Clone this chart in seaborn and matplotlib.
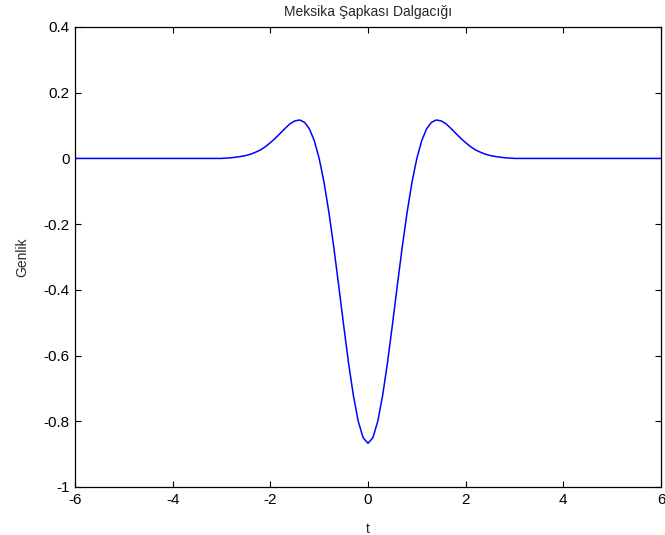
import matplotlib
matplotlib.use("Agg")
import matplotlib.pyplot as plt
import seaborn as sns
import pandas as pd

# Time axis and amplitude
t = [-6.0,
     -3.0, -2.9, -2.8, -2.7, -2.6, -2.5, -2.4, -2.3, -2.2, -2.1,
     -2.0, -1.9, -1.8, -1.7, -1.6, -1.5, -1.4, -1.3, -1.2, -1.1,
     -1.0, -0.9, -0.8, -0.7, -0.6, -0.5, -0.4, -0.3, -0.2, -0.1,
     0.0,
     0.1, 0.2, 0.3, 0.4, 0.5, 0.6, 0.7, 0.8, 0.9, 1.0,
     1.1, 1.2, 1.3, 1.4, 1.5, 1.6, 1.7, 1.8, 1.9, 2.0,
     2.1, 2.2, 2.3, 2.4, 2.5, 2.6, 2.7, 2.8, 2.9, 3.0,
     6.0]
genlik = [0.0,
          0.000, 0.001, 0.002, 0.004, 0.006, 0.009, 0.013, 0.019, 0.026, 0.036,
          0.048, 0.061, 0.076, 0.091, 0.105, 0.114, 0.117, 0.110, 0.090, 0.054,
          0.000, -0.073, -0.165, -0.271, -0.387, -0.506, -0.621, -0.721, -0.800, -0.850,
          -0.867,
          -0.850, -0.800, -0.721, -0.621, -0.506, -0.387, -0.271, -0.165, -0.073, 0.000,
          0.054, 0.090, 0.110, 0.117, 0.114, 0.105, 0.091, 0.076, 0.061, 0.048,
          0.036, 0.026, 0.019, 0.013, 0.009, 0.006, 0.004, 0.002, 0.001, 0.000,
          0.0]

x_ticks = [-6, -4, -2, 0, 2, 4, 6]
y_ticks = [-1, -0.8, -0.6, -0.4, -0.2, 0, 0.2, 0.4]
y_tick_labels = ["-1", "-0.8", "-0.6", "-0.4", "-0.2", "0", "0.2", "0.4"]

df = pd.DataFrame({"t": t, "Genlik": genlik})

sns.set_style("ticks")
plt.rcParams["font.family"] = ["Liberation Sans", "DejaVu Sans"]
plt.rcParams["axes.unicode_minus"] = False

fig = plt.figure(figsize=(6.65, 5.35), dpi=100)
ax = fig.add_axes([75 / 665, 1 - 487 / 535, 586 / 665, 460 / 535])

sns.lineplot(data=df, x="t", y="Genlik", color="#0000ff", linewidth=1.1, ax=ax)

ax.set_xlim(-6, 6)
ax.set_ylim(-1, 0.4)
ax.set_xticks(x_ticks)
ax.set_xticklabels([str(v) for v in x_ticks])
ax.set_yticks(y_ticks)
ax.set_yticklabels(y_tick_labels)
ax.tick_params(direction="in", length=4, width=0.8, top=True, right=True,
               labelsize=11, pad=4, colors="black")
for s in ax.spines.values():
    s.set_visible(True)
    s.set_color("black")
    s.set_linewidth(0.9)

ax.set_title("Meksika Şapkası Dalgacığı", fontsize=10, pad=8)
ax.set_xlabel("t", fontsize=10, labelpad=11)
ax.set_ylabel("Genlik", fontsize=10, labelpad=10)

fig.savefig("out.png", dpi=100, facecolor="white")
